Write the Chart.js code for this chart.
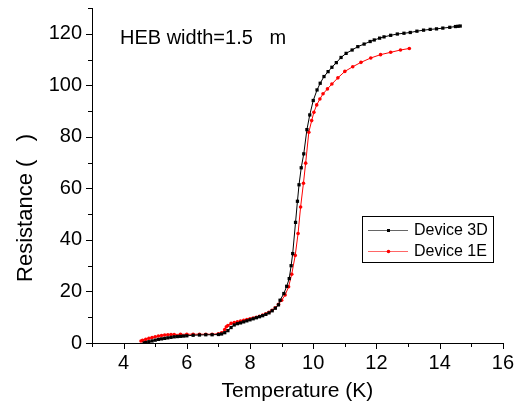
<!DOCTYPE html>
<html>
<head>
<meta charset="utf-8">
<script src="https://cdn.jsdelivr.net/npm/chart.js@4/dist/chart.umd.min.js"></script>
<style>
  html, body { margin: 0; padding: 0; background: #fff; }
  #wrap { width: 522px; height: 407px; }
</style>
</head>
<body>
<div id="wrap"><canvas id="rtChart"></canvas></div>
<script>
// Device 3D (black)
var t3D = [4.65, 4.7, 4.8, 4.9, 5.0, 5.1, 5.2, 5.3, 5.4, 5.5, 5.6, 5.7, 5.8, 5.9, 6.0, 6.2, 6.4, 6.6, 6.8, 7.0,
  7.1, 7.2, 7.3, 7.4, 7.5, 7.6, 7.7, 7.8, 7.9, 8.0, 8.1, 8.2, 8.3, 8.4, 8.5, 8.6, 8.7, 8.8, 8.9, 8.95,
  9.07, 9.16, 9.24, 9.3, 9.35, 9.44, 9.5, 9.55, 9.62, 9.7, 9.8, 9.89, 10.0, 10.12, 10.22, 10.34, 10.47, 10.59, 10.73, 10.88,
  11.04, 11.23, 11.41, 11.61, 11.8, 11.93, 12.1, 12.24, 12.45, 12.66, 12.87, 13.07, 13.28, 13.49, 13.7, 13.9, 14.1, 14.32, 14.5, 14.58, 14.65];
var r3D = [0.0, 0.2, 0.5, 0.8, 1.1, 1.4, 1.6, 1.8, 2.0, 2.2, 2.4, 2.5, 2.6, 2.7, 2.8, 3.0, 3.1, 3.2, 3.2, 3.3,
  3.5, 4.0, 4.8, 6.0, 7.0, 7.5, 7.8, 8.2, 8.6, 9.0, 9.4, 9.8, 10.2, 10.6, 11.1, 11.7, 12.5, 13.5, 14.8, 16.6,
  19.2, 22, 25, 30, 34.7, 46.8, 55, 61.4, 68, 73.4, 82.8, 88.5, 94.1, 98.2, 100.8, 103.4, 105.3, 107, 108.8, 110.8,
  112.4, 113.7, 115, 116, 117, 117.6, 118.3, 118.8, 119.4, 119.9, 120.2, 120.5, 121, 121.4, 121.7, 121.9, 122.2, 122.5, 122.8, 122.9, 123.0];

// Device 1E (red)
var t1E = [4.55, 4.6, 4.7, 4.8, 4.9, 5.0, 5.1, 5.2, 5.3, 5.4, 5.5, 5.6, 5.8, 6.0, 6.2, 6.4, 6.6, 6.8, 7.0, 7.1,
  7.2, 7.25, 7.3, 7.4, 7.5, 7.6, 7.7, 7.8, 7.9, 8.0, 8.1, 8.2, 8.3, 8.4, 8.5, 8.6, 8.7, 8.8, 8.9, 9.0,
  9.11, 9.22, 9.32, 9.43, 9.52, 9.6, 9.69, 9.76, 9.86, 9.95, 10.02, 10.11, 10.21, 10.31, 10.45, 10.59, 10.78, 11.0, 11.25, 11.51,
  11.82, 12.13, 12.45, 12.76, 13.04];
var r1E = [0.8, 1.0, 1.4, 1.8, 2.1, 2.4, 2.7, 2.9, 3.1, 3.2, 3.3, 3.3, 3.4, 3.4, 3.4, 3.4, 3.4, 3.4, 3.6, 4.0,
  5.2, 6.3, 6.8, 7.6, 7.9, 8.2, 8.5, 8.8, 9.1, 9.4, 9.7, 10.0, 10.4, 10.8, 11.3, 11.9, 12.7, 13.7, 15.0, 16.6,
  18.6, 21.8, 26.7, 34, 42.5, 52.8, 62, 69.8, 81.8, 86.3, 89.5, 92.4, 94.7, 96.7, 98.6, 100.5, 102.9, 105.4, 107.2, 108.9,
  110.6, 111.9, 112.8, 113.7, 114.3];

var seriesNames = ['Device 3D', 'Device 1E'];
var xTicks = [3, 4, 5, 6, 7, 8, 9, 10, 11, 12, 13, 14, 15, 16];
var yTicks = [0, 10, 20, 30, 40, 50, 60, 70, 80, 90, 100, 110, 120, 130];

function pts(xs, ys) {
  var out = [];
  for (var i = 0; i < xs.length; i++) out.push({ x: xs[i], y: ys[i] });
  return out;
}

var FONT = "'Liberation Sans', Arial, sans-serif";

// ticks, axis title, note and legend
var decor = {
  id: 'decor',
  afterDraw: function (chart) {
    var ctx = chart.ctx;
    var xs = chart.scales.x, ys = chart.scales.y;
    var area = chart.chartArea;
    ctx.save();
    ctx.strokeStyle = '#000';
    ctx.lineWidth = 1;
    ctx.beginPath();
    xTicks.forEach(function (v) {
      var px = Math.round(xs.getPixelForValue(v)) + 0.5;
      var len = (v % 2 === 0) ? 6 : 4;
      ctx.moveTo(px, area.bottom);
      ctx.lineTo(px, area.bottom + len);
    });
    yTicks.forEach(function (v) {
      var py = Math.round(ys.getPixelForValue(v)) + 0.5;
      var len = (v % 20 === 0) ? 6 : 4;
      ctx.moveTo(area.left, py);
      ctx.lineTo(area.left - len, py);
    });
    ctx.stroke();

    // y title
    ctx.fillStyle = '#000';
    ctx.font = '22px ' + FONT;
    ctx.textAlign = 'center';
    ctx.textBaseline = 'middle';
    ctx.save();
    ctx.translate(26, 208);
    ctx.rotate(-Math.PI / 2);
    ctx.fillText('Resistance (   )', 0, 0);
    ctx.restore();

    // note
    ctx.font = '20px ' + FONT;
    ctx.textAlign = 'left';
    ctx.textBaseline = 'alphabetic';
    ctx.fillText('HEB width=1.5   m', 120, 44);

    // legend
    var bx = 362, by = 216, bw = 131, bh = 46;
    ctx.strokeStyle = '#000';
    ctx.strokeRect(bx + 0.5, by + 0.5, bw, bh);
    var colors = ['#000000', '#ff0000'];
    var rows = [230, 251];
    ctx.font = '16px ' + FONT;
    ctx.textBaseline = 'middle';
    for (var i = 0; i < 2; i++) {
      ctx.strokeStyle = colors[i];
      ctx.globalAlpha = 0.6;
      ctx.beginPath();
      ctx.moveTo(368, rows[i] + 0.5);
      ctx.lineTo(408, rows[i] + 0.5);
      ctx.stroke();
      ctx.globalAlpha = 1;
      ctx.fillStyle = colors[i];
      if (i === 0) {
        ctx.fillRect(387, rows[i] - 1, 3, 3);
      } else {
        ctx.beginPath();
        ctx.arc(388.5, rows[i] + 0.5, 1.8, 0, Math.PI * 2);
        ctx.fill();
      }
      ctx.fillStyle = '#000';
      ctx.fillText(seriesNames[i], 414, rows[i] + 1);
    }
    ctx.restore();
  }
};

var ctx1 = document.getElementById('rtChart');
new Chart(ctx1, {
  type: 'scatter',
  data: {
    datasets: [{
      label: seriesNames[0],
      data: pts(t3D, r3D),
      showLine: true,
      borderColor: '#000000',
      backgroundColor: '#000000',
      borderWidth: 1,
      pointStyle: 'rect',
      pointRadius: 2.3,
      pointBorderWidth: 0,
      tension: 0
    },
    {
      label: seriesNames[1],
      data: pts(t1E, r1E),
      showLine: true,
      borderColor: '#ff0000',
      backgroundColor: '#ff0000',
      borderWidth: 1,
      pointStyle: 'circle',
      pointRadius: 1.8,
      pointBorderWidth: 0,
      tension: 0
    }]
  },
  options: {
    responsive: true,
    maintainAspectRatio: false,
    animation: false,
    layout: { padding: { left: 0, right: 17, top: 8, bottom: 0 } },
    plugins: {
      legend: { display: false },
      tooltip: { enabled: false }
    },
    scales: {
      x: {
        type: 'linear',
        min: 3,
        max: 16,
        grid: { display: false, drawTicks: false },
        border: { display: true, color: '#000', width: 1 },
        ticks: {
          stepSize: 1,
          autoSkip: false,
          maxRotation: 0,
          padding: 8,
          color: '#000',
          font: { family: FONT, size: 20 },
          callback: function (v) { return v % 2 === 0 ? v : ''; }
        },
        title: {
          display: true,
          text: 'Temperature (K)',
          color: '#000',
          font: { family: FONT, size: 21 },
          padding: { top: 0, bottom: 3 }
        },
        afterFit: function (scale) { scale.height = 64; }
      },
      y: {
        min: 0,
        max: 130,
        grid: { display: false, drawTicks: false },
        border: { display: true, color: '#000', width: 1 },
        ticks: {
          stepSize: 10,
          autoSkip: false,
          padding: 10,
          color: '#000',
          font: { family: FONT, size: 20 },
          callback: function (v) { return v % 20 === 0 ? v : ''; }
        },
        afterFit: function (scale) {
          scale.width = 92;
          scale.paddingTop = 0;
          scale.paddingBottom = 0;
        }
      }
    }
  },
  plugins: [decor]
});
</script>
</body>
</html>
